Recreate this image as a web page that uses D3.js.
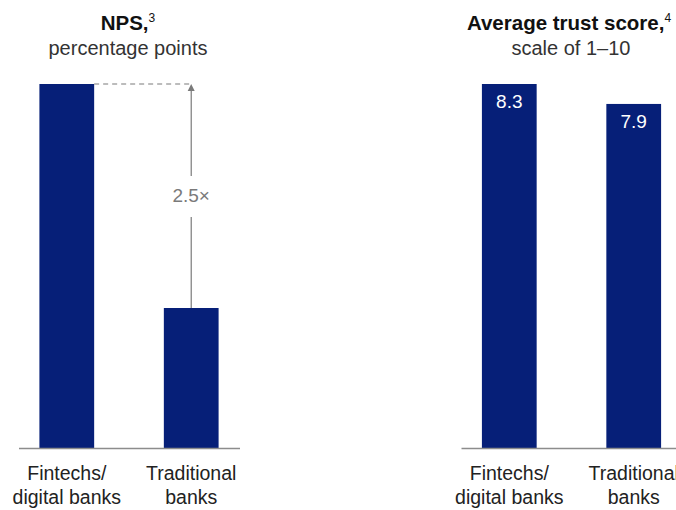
<!DOCTYPE html>
<html>
<head>
<meta charset="utf-8">
<script src="https://cdn.jsdelivr.net/npm/d3@7"></script>
<style>
  html, body { margin: 0; padding: 0; background: #fff; }
  svg { display: block; font-family: "Liberation Sans", Arial, Helvetica, sans-serif; }
</style>
</head>
<body>
<svg id="chart" width="676" height="510"></svg>
<script>
// ---- Data ----
const categories = ["Fintechs/ digital banks", "Traditional banks"];
const categoryLines = [["Fintechs/", "digital banks"], ["Traditional", "banks"]];
const npsValues = [52, 20];
const trustValues = [8.3, 7.9];
const trustLabels = ["8.3", "7.9"];
const npsMultipleLabel = "2.5×";
const npsTitle = "NPS,";
const npsTitleSup = "3";
const npsSubtitle = "percentage points";
const trustTitle = "Average trust score,";
const trustTitleSup = "4";
const trustSubtitle = "scale of 1–10";

// ---- Styles ----
const barColor = "#061f78";
const axisColor = "#8c8c8c";
const textColor = "#222";
const annColor = "#7a7a7a";

const svg = d3.select("#chart");
const baseY = 448, topY = 84;

function panel(opts) {
  const g = svg.append("g");
  const x = d3.scaleBand().domain(categories).range(opts.xRange)
    .paddingInner(0.56).paddingOuter(0.168);
  const y = d3.scaleLinear().domain(opts.yDomain).range([baseY, topY]);

  // bars
  g.selectAll("rect.bar").data(opts.values).enter().append("rect")
    .attr("class", "bar")
    .attr("x", (d, i) => x(categories[i]))
    .attr("width", x.bandwidth())
    .attr("y", d => y(d))
    .attr("height", d => y(opts.yDomain[0]) - y(d))
    .attr("fill", barColor);

  // axis
  const ax = g.append("g").attr("transform", `translate(0,${baseY})`)
    .call(d3.axisBottom(x).tickSize(0).tickSizeOuter(0).tickFormat(""));
  ax.select(".domain").attr("stroke", axisColor).attr("stroke-width", 1.5);
  ax.selectAll(".tick text").remove();
  ax.selectAll(".tick").each(function(d, i) {
    const t = d3.select(this).append("text")
      .attr("text-anchor", "middle")
      .attr("fill", textColor)
      .attr("font-size", "19.5px");
    categoryLines[i].forEach((ln, k) => {
      t.append("tspan").attr("x", 0).attr("y", 32 + k * 23.5).text(ln);
    });
  });

  // title
  const cx = (opts.xRange[0] + opts.xRange[1]) / 2;
  const tt = g.append("text").attr("x", opts.titleX || cx).attr("y", 30)
    .attr("text-anchor", "middle").attr("fill", "#111")
    .attr("font-size", "20.5px").attr("font-weight", "bold");
  tt.append("tspan").text(opts.title);
  tt.append("tspan").attr("font-size", "12px").attr("font-weight", "normal")
    .attr("dy", -8).text(opts.sup);
  g.append("text").attr("x", opts.subX || cx).attr("y", 55)
    .attr("text-anchor", "middle").attr("fill", "#333")
    .attr("font-size", "20px").text(opts.subtitle);

  return { g, x, y };
}

// ---- Left panel: NPS ----
const left = panel({
  xRange: [18.5, 239.5], yDomain: [0, npsValues[0]], values: npsValues,
  title: npsTitle, sup: npsTitleSup, subtitle: npsSubtitle, titleX: 128, subX: 128
});
{
  const { g, x, y } = left;
  const x1 = x(categories[0]) + x.bandwidth();
  const xc = x(categories[1]) + x.bandwidth() / 2;
  const yTop = y(npsValues[0]);
  const yLow = y(npsValues[1]);
  const yMid = (yTop + yLow) / 2;
  // dashed reference line
  g.append("line").attr("x1", x1).attr("x2", xc).attr("y1", yTop).attr("y2", yTop)
    .attr("stroke", annColor).attr("stroke-width", 1.2).attr("stroke-dasharray", "5,4");
  // arrow upper segment
  g.append("line").attr("x1", xc).attr("x2", xc).attr("y1", yTop + 6).attr("y2", yMid - 20)
    .attr("stroke", annColor).attr("stroke-width", 1.2);
  g.append("path")
    .attr("d", `M${xc},${yTop} L${xc - 3.5},${yTop + 7} L${xc + 3.5},${yTop + 7} Z`)
    .attr("fill", annColor);
  // arrow lower segment
  g.append("line").attr("x1", xc).attr("x2", xc).attr("y1", yMid + 21).attr("y2", yLow)
    .attr("stroke", annColor).attr("stroke-width", 1.2);
  g.append("text").attr("x", xc).attr("y", yMid + 6)
    .attr("text-anchor", "middle").attr("fill", annColor)
    .attr("font-size", "19px").text(npsMultipleLabel);
}

// ---- Right panel: Trust ----
const right = panel({
  xRange: [461, 682], yDomain: [1, trustValues[0]], values: trustValues,
  title: trustTitle, sup: trustTitleSup, subtitle: trustSubtitle, titleX: 569, subX: 571
});
{
  const { g, x, y } = right;
  g.selectAll("text.val").data(trustValues).enter().append("text")
    .attr("class", "val")
    .attr("x", (d, i) => x(categories[i]) + x.bandwidth() / 2)
    .attr("y", d => y(d) + 24)
    .attr("text-anchor", "middle").attr("fill", "#fff")
    .attr("font-size", "19px")
    .text((d, i) => trustLabels[i]);
}
</script>
</body>
</html>
